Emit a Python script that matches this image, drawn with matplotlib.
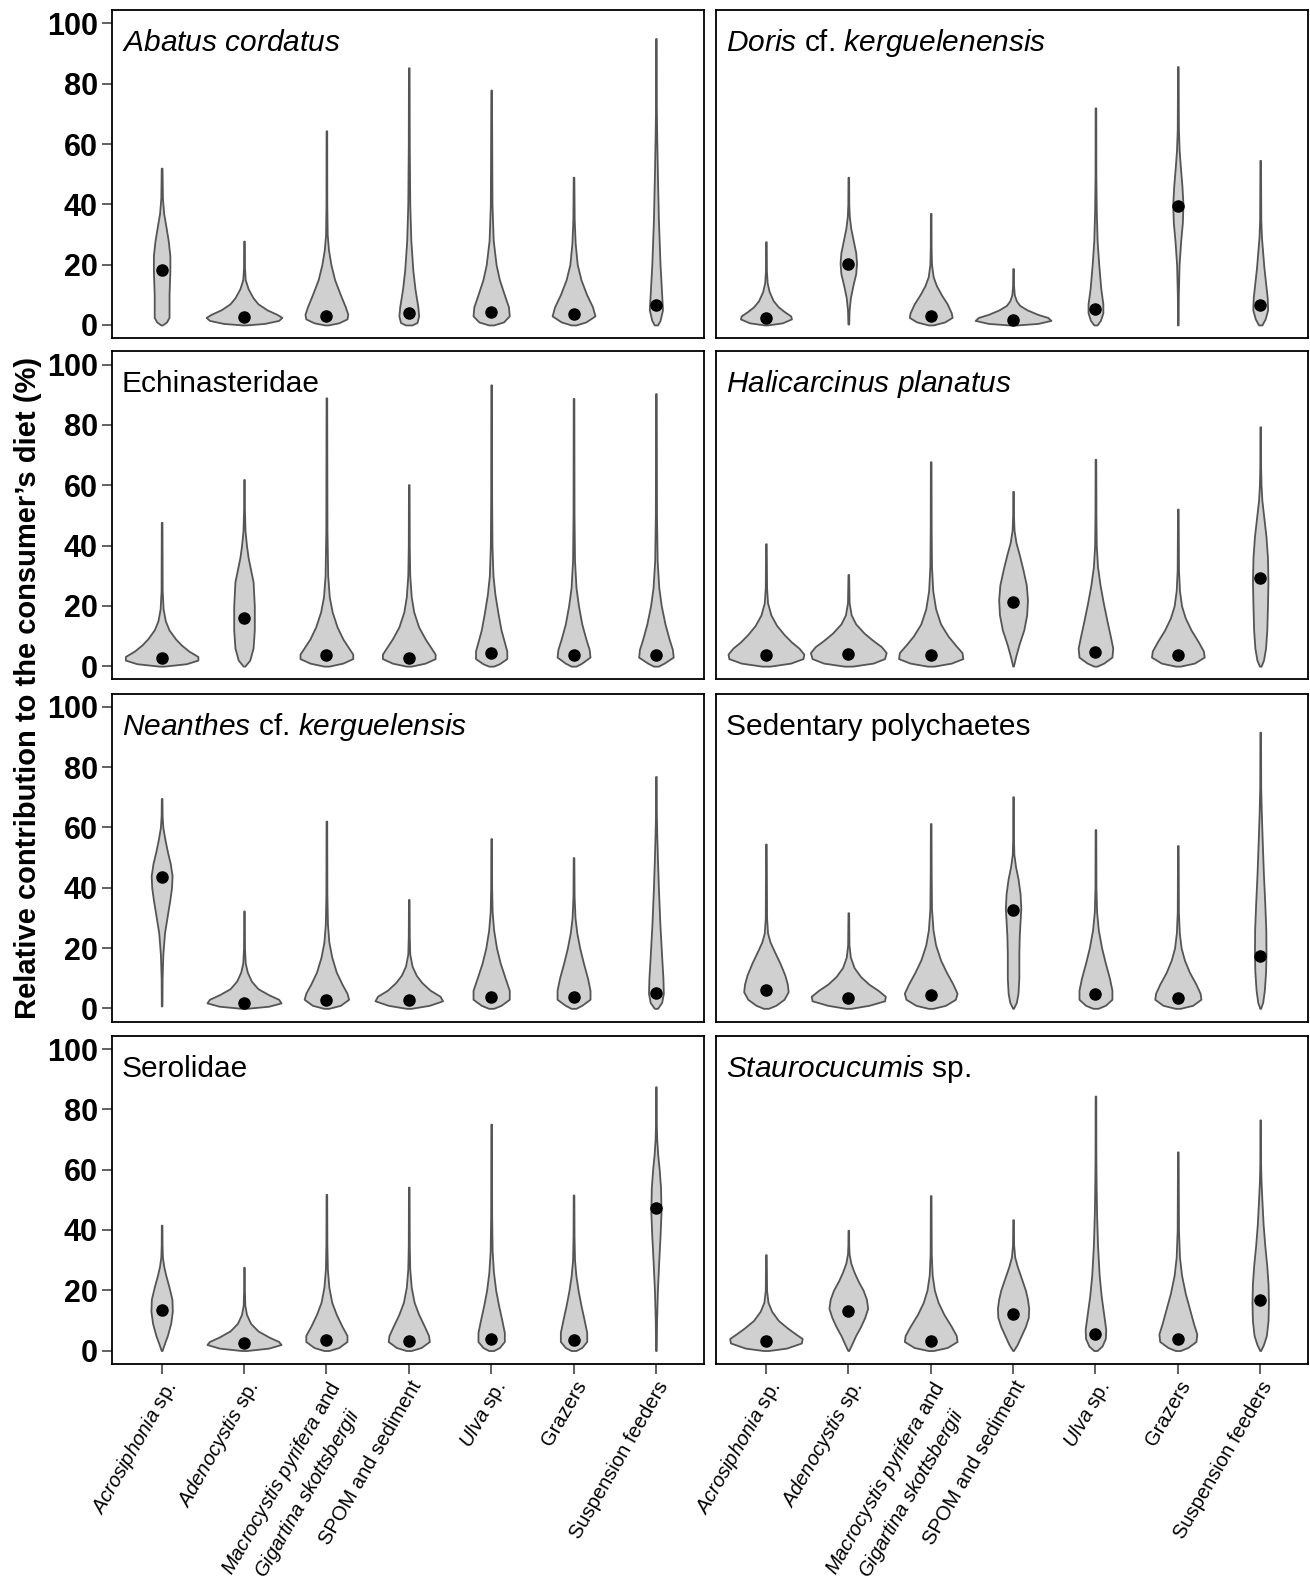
import numpy as np
import matplotlib.pyplot as plt

plt.rcParams['font.family'] = ['Liberation Sans', 'DejaVu Sans']
plt.rcParams['mathtext.fontset'] = 'custom'
plt.rcParams['mathtext.rm'] = 'Liberation Sans'
plt.rcParams['mathtext.it'] = 'Liberation Sans:italic'
plt.rcParams['mathtext.bf'] = 'Liberation Sans:bold'

# food sources (x axis)
sources = [r'$\mathit{Acrosiphonia}$ sp.',
           r'$\mathit{Adenocystis}$ sp.',
           '$\\mathit{Macrocystis\\ pyrifera}$ and\n$\\mathit{Gigartina\\ skottsbergii}$',
           'SPOM and sediment',
           r'$\mathit{Ulva}$ sp.',
           'Grazers',
           'Suspension feeders']

consumers = [r'$\mathit{Abatus\ cordatus}$',
             r'$\mathit{Doris}$ cf. $\mathit{kerguelenensis}$',
             'Echinasteridae',
             r'$\mathit{Halicarcinus\ planatus}$',
             r'$\mathit{Neanthes}$ cf. $\mathit{kerguelensis}$',
             'Sedentary polychaetes',
             'Serolidae',
             r'$\mathit{Staurocucumis}$ sp.']

# median contribution (%) of each source, per consumer
abatus_med = [18.3, 2.6, 2.9, 4.0, 4.4, 3.7, 6.7]
doris_med = [2.3, 20.1, 2.9, 1.7, 5.3, 39.3, 6.7]
echin_med = [2.7, 16.1, 3.6, 2.7, 4.3, 3.6, 3.6]
halic_med = [3.6, 4.0, 3.6, 21.3, 4.7, 3.8, 29.4]
neanth_med = [43.5, 1.9, 2.9, 2.9, 3.9, 3.7, 5.0]
sedent_med = [6.2, 3.3, 4.3, 32.5, 4.6, 3.3, 17.2]
serol_med = [13.6, 2.5, 3.4, 3.0, 3.9, 3.6, 47.2]
stauro_med = [3.0, 13.2, 3.1, 12.1, 5.6, 3.9, 16.8]

# posterior density outlines: (contribution %, half width as share of slot)
abatus_dens = [
    [(0, .01), (1, .06), (2.5, .09), (10, .09), (18, .10), (23, .10), (28, .08), (33, .05), (37, .025), (42, .01), (52, .005)],
    [(0, .02), (0.5, .25), (1.5, .42), (2.5, .46), (3.5, .40), (5, .28), (7, .17), (9, .11), (12, .05), (15, .015), (19, .006), (27.8, .005)],
    [(0, .02), (0.7, .15), (2, .25), (3.5, .26), (6, .23), (10, .17), (15, .10), (20, .055), (25, .025), (30, .01), (40, .005), (64.4, .004)],
    [(0, .04), (0.8, .10), (3, .12), (6, .11), (12, .075), (18, .05), (28, .025), (40, .012), (60, .006), (85.3, .004)],
    [(0, .03), (1, .15), (3, .22), (6, .21), (10, .16), (15, .10), (20, .06), (28, .025), (40, .01), (77.9, .004)],
    [(0, .03), (1, .15), (3, .26), (6, .23), (10, .16), (15, .09), (20, .045), (27, .02), (35, .008), (49, .004)],
    [(0, .02), (1.5, .05), (5, .08), (10, .07), (20, .05), (35, .03), (50, .018), (62, .01), (72, .005), (95, .004)],
]
doris_dens = [
    [(0, .02), (0.7, .2), (2, .31), (3, .30), (4.5, .22), (6, .15), (8, .09), (11, .04), (14, .015), (18, .006), (27.6, .004)],
    [(0.3, .005), (5, .01), (9, .025), (13, .055), (17, .09), (20.5, .10), (24, .09), (28, .06), (32, .03), (36, .012), (40, .006), (49, .004)],
    [(0, .03), (1, .17), (2.5, .26), (4, .25), (7, .2), (10, .13), (13, .07), (16, .03), (20, .01), (26, .005), (37, .004)],
    [(0, .05), (0.5, .3), (1.5, .46), (2.5, .42), (3.5, .3), (5, .17), (6.5, .08), (8, .04), (10, .015), (13, .006), (18.7, .004)],
    [(0, .02), (1.5, .06), (4, .09), (7, .09), (12, .065), (20, .04), (28, .02), (38, .01), (50, .005), (72, .004)],
    [(0, .004), (10, .006), (20, .015), (28, .035), (34, .055), (40, .062), (46, .05), (52, .032), (58, .016), (65, .007), (85.7, .004)],
    [(0, .02), (2, .06), (5, .09), (9, .085), (14, .065), (19, .045), (24, .03), (29, .015), (35, .007), (54.6, .004)],
]
echin_dens = [
    [(0, .03), (0.8, .3), (2, .44), (3.2, .44), (5, .33), (7, .24), (9, .17), (12, .09), (15, .045), (19, .018), (25, .007), (47.7, .004)],
    [(0, .01), (2, .07), (6, .11), (12, .125), (20, .125), (28, .11), (32, .08), (36, .05), (40, .03), (45, .012), (52, .005), (61.9, .004)],
    [(0, .03), (1, .2), (2.5, .32), (4, .32), (6.5, .26), (9, .2), (13, .13), (18, .07), (23, .035), (30, .016), (45, .007), (89, .004)],
    [(0, .03), (1, .2), (2.5, .32), (4, .32), (6.5, .26), (9, .2), (13, .12), (18, .06), (23, .03), (30, .012), (40, .006), (60.2, .004)],
    [(0, .03), (0.8, .1), (2.5, .19), (5, .19), (8, .16), (12, .12), (18, .08), (24, .045), (30, .022), (40, .01), (55, .006), (93.3, .004)],
    [(0, .03), (1, .1), (3, .2), (5.5, .19), (9, .15), (14, .1), (20, .06), (26, .03), (35, .012), (50, .006), (88.8, .004)],
    [(0, .03), (1, .1), (3, .21), (5.5, .2), (9, .16), (14, .11), (20, .065), (26, .035), (35, .015), (50, .007), (90.4, .004)],
]
halic_dens = [
    [(0, .05), (1, .3), (2.5, .45), (4, .46), (6, .4), (8, .31), (10.5, .22), (13.5, .13), (17, .06), (21, .02), (26, .008), (40.6, .004)],
    [(0, .05), (1, .3), (2.5, .44), (4.5, .46), (6.5, .4), (8.5, .3), (11, .19), (14, .09), (17, .035), (21, .01), (30.4, .004)],
    [(0, .04), (1, .25), (2.5, .39), (4.5, .38), (7, .3), (10, .21), (14, .12), (19, .06), (25, .025), (33, .01), (45, .006), (67.8, .004)],
    [(0, .004), (3, .03), (7, .07), (12, .13), (17, .165), (22, .175), (27, .16), (32, .12), (37, .075), (41, .035), (45, .012), (50, .005), (58, .004)],
    [(0, .02), (1, .1), (3, .2), (6, .21), (10, .18), (15, .14), (21, .095), (27, .055), (33, .025), (40, .01), (50, .006), (68.6, .004)],
    [(0, .03), (1, .2), (3, .32), (5, .31), (8, .25), (12, .16), (16, .09), (20, .045), (25, .02), (32, .008), (52.1, .004)],
    [(0, .01), (2, .04), (6, .065), (12, .08), (20, .088), (28, .094), (36, .088), (43, .07), (49, .045), (55, .02), (60, .01), (66, .005), (79.4, .004)],
]
neanth_dens = [
    [(0.8, .004), (10, .006), (18, .015), (25, .035), (31, .07), (36, .1), (40, .12), (44, .127), (48, .105), (52, .07), (56, .04), (60, .015), (64, .006), (69.6, .004)],
    [(0, .03), (0.7, .3), (1.8, .45), (3, .42), (4.5, .3), (6.5, .17), (9, .09), (12, .04), (15, .015), (20, .006), (32.3, .004)],
    [(0, .03), (1, .17), (3, .27), (5, .25), (8, .19), (12, .12), (17, .065), (22, .03), (28, .013), (38, .006), (62.1, .004)],
    [(0, .03), (1, .25), (2.5, .41), (4, .38), (6, .26), (8.5, .16), (11, .09), (14, .04), (18, .012), (24, .006), (36.1, .004)],
    [(0, .03), (1, .12), (3, .22), (6, .22), (10, .17), (15, .11), (20, .065), (26, .03), (32, .012), (40, .006), (56.3, .004)],
    [(0, .03), (1, .1), (3, .2), (6, .2), (10, .17), (15, .12), (20, .075), (25, .04), (30, .018), (37, .007), (50, .004)],
    [(0, .02), (2, .07), (5, .09), (10, .085), (17, .07), (28, .048), (40, .03), (50, .018), (58, .01), (65, .005), (76.9, .004)],
]
sedent_dens = [
    [(0, .03), (1, .12), (3, .22), (5.5, .27), (8, .26), (11, .23), (15, .17), (19, .1), (22, .05), (25, .02), (30, .008), (54.5, .004)],
    [(0, .03), (1, .25), (2.5, .44), (4, .45), (6, .36), (8, .25), (10.5, .15), (13.5, .07), (17, .025), (21, .008), (31.7, .004)],
    [(0, .03), (1, .18), (3, .3), (5, .32), (8, .27), (12, .19), (16, .12), (21, .06), (26, .028), (33, .01), (45, .006), (61.3, .004)],
    [(0, .005), (2, .04), (5, .06), (10, .07), (18, .07), (24, .075), (29, .085), (33, .094), (38, .085), (43, .06), (47, .03), (51, .01), (56, .005), (70.2, .004)],
    [(0, .03), (1, .12), (3, .2), (6, .2), (10, .17), (15, .12), (20, .075), (26, .035), (32, .014), (40, .006), (59.3, .004)],
    [(0, .03), (1, .18), (3, .28), (5, .27), (8, .22), (12, .14), (16, .08), (20, .04), (25, .018), (32, .007), (54, .004)],
    [(0, .005), (2, .03), (6, .05), (12, .065), (18, .07), (26, .068), (35, .055), (45, .038), (55, .025), (65, .013), (73, .006), (91.6, .004)],
]
serol_dens = [
    [(0, .005), (2, .03), (5, .07), (9, .11), (13, .13), (17, .125), (21, .09), (25, .05), (28, .025), (31, .01), (35, .005), (41.6, .004)],
    [(0, .03), (0.8, .3), (2, .45), (3, .42), (4.5, .3), (6.5, .17), (9, .08), (12, .03), (15, .01), (20, .005), (27.6, .004)],
    [(0, .03), (1, .15), (3, .25), (5, .25), (8, .19), (12, .12), (16, .065), (21, .03), (27, .012), (35, .006), (51.8, .004)],
    [(0, .03), (1, .15), (3, .25), (5, .24), (8, .19), (12, .12), (16, .065), (21, .03), (27, .012), (35, .006), (54.2, .004)],
    [(0, .03), (1, .1), (3, .16), (6, .16), (10, .13), (15, .09), (20, .055), (26, .028), (33, .012), (45, .006), (75.1, .004)],
    [(0, .03), (1, .1), (3, .16), (6, .16), (10, .13), (15, .09), (20, .055), (25, .028), (30, .012), (38, .006), (51.6, .004)],
    [(0, .004), (10, .008), (20, .018), (30, .035), (38, .05), (46, .062), (54, .056), (60, .04), (65, .022), (70, .01), (75, .005), (87.5, .004)],
]
stauro_dens = [
    [(0, .03), (0.8, .25), (2.5, .43), (4, .44), (5.5, .36), (7.5, .26), (10, .15), (13, .07), (16, .025), (20, .008), (31.8, .004)],
    [(0, .005), (2, .04), (5, .09), (8, .15), (11, .2), (14, .235), (17, .22), (20, .18), (23, .12), (26, .07), (29, .03), (32, .01), (35, .005), (39.9, .004)],
    [(0, .03), (1, .2), (3, .32), (5, .31), (8, .25), (12, .16), (16, .09), (20, .045), (25, .018), (32, .007), (51.4, .004)],
    [(0, .005), (2, .05), (5, .1), (8, .15), (11, .185), (14, .19), (17, .175), (20, .15), (24, .1), (28, .05), (31, .02), (35, .007), (43.4, .004)],
    [(0, .02), (1.5, .08), (4, .12), (7, .125), (12, .1), (18, .07), (25, .045), (35, .025), (45, .014), (55, .008), (65, .005), (84.4, .004)],
    [(0, .03), (1, .12), (3, .22), (5.5, .23), (9, .19), (14, .14), (19, .09), (25, .045), (31, .02), (40, .008), (65.9, .004)],
    [(0, .005), (2, .04), (5, .075), (10, .095), (16, .1), (22, .095), (28, .08), (35, .055), (42, .035), (50, .02), (56, .01), (62, .005), (76.5, .004)],
]

medians = [abatus_med, doris_med, echin_med, halic_med,
           neanth_med, sedent_med, serol_med, stauro_med]
densities = [abatus_dens, doris_dens, echin_dens, halic_dens,
             neanth_dens, sedent_dens, serol_dens, stauro_dens]

W, H = 1310, 1592
fig = plt.figure(figsize=(W / 100, H / 100), dpi=100)

col_left = [111.7 / W, 716 / W]
pw = 592 / W
ph = 328 / H
row_top = [10.2, 351.4, 693.6, 1035.8]

edge = '#555555'
x = np.arange(1, 8)

for k in range(8):
    r, c = divmod(k, 2)
    ax = fig.add_axes([col_left[c], 1 - (row_top[r] + 328) / H, pw, ph])
    for i, prof in enumerate(densities[k]):
        ys = np.array([p[0] for p in prof])
        ws = np.array([p[1] for p in prof])
        ax.fill_betweenx(ys, x[i] - ws, x[i] + ws, facecolor='#d0d0d0',
                         edgecolor=edge, linewidth=1.3, joinstyle='round')
    ax.plot(x, medians[k], 'o', color='black', ms=8, zorder=5)
    ax.set_xlim(0.394, 7.58)
    ax.set_ylim(-4.4, 104.4)
    for s in ax.spines.values():
        s.set_linewidth(1.3)
        s.set_color('black')
    ax.text(0.017, 0.875, consumers[k], transform=ax.transAxes,
            fontsize=21.5, va='baseline', ha='left')
    if c == 0:
        ax.set_yticks([0, 20, 40, 60, 80, 100])
        ax.tick_params(axis='y', length=7, width=1.3, color=edge, pad=3,
                       labelsize=22)
        for lab in ax.get_yticklabels():
            lab.set_fontweight('bold')
    else:
        ax.set_yticks([])
    if r == 3:
        ax.set_xticks(x)
        ax.set_xticklabels(sources, rotation=60, ha='right', va='top',
                           rotation_mode='anchor', fontsize=14.5,
                           multialignment='center', linespacing=1.4)
        ax.tick_params(axis='x', length=7, width=1.3, color=edge, pad=3)
    else:
        ax.set_xticks([])

fig.text(0.0217, 0.568, 'Relative contribution to the consumer\u2019s diet (%)',
         rotation=90, ha='center', va='center', fontsize=21, fontweight='bold')

fig.savefig('out.png', dpi=100)
